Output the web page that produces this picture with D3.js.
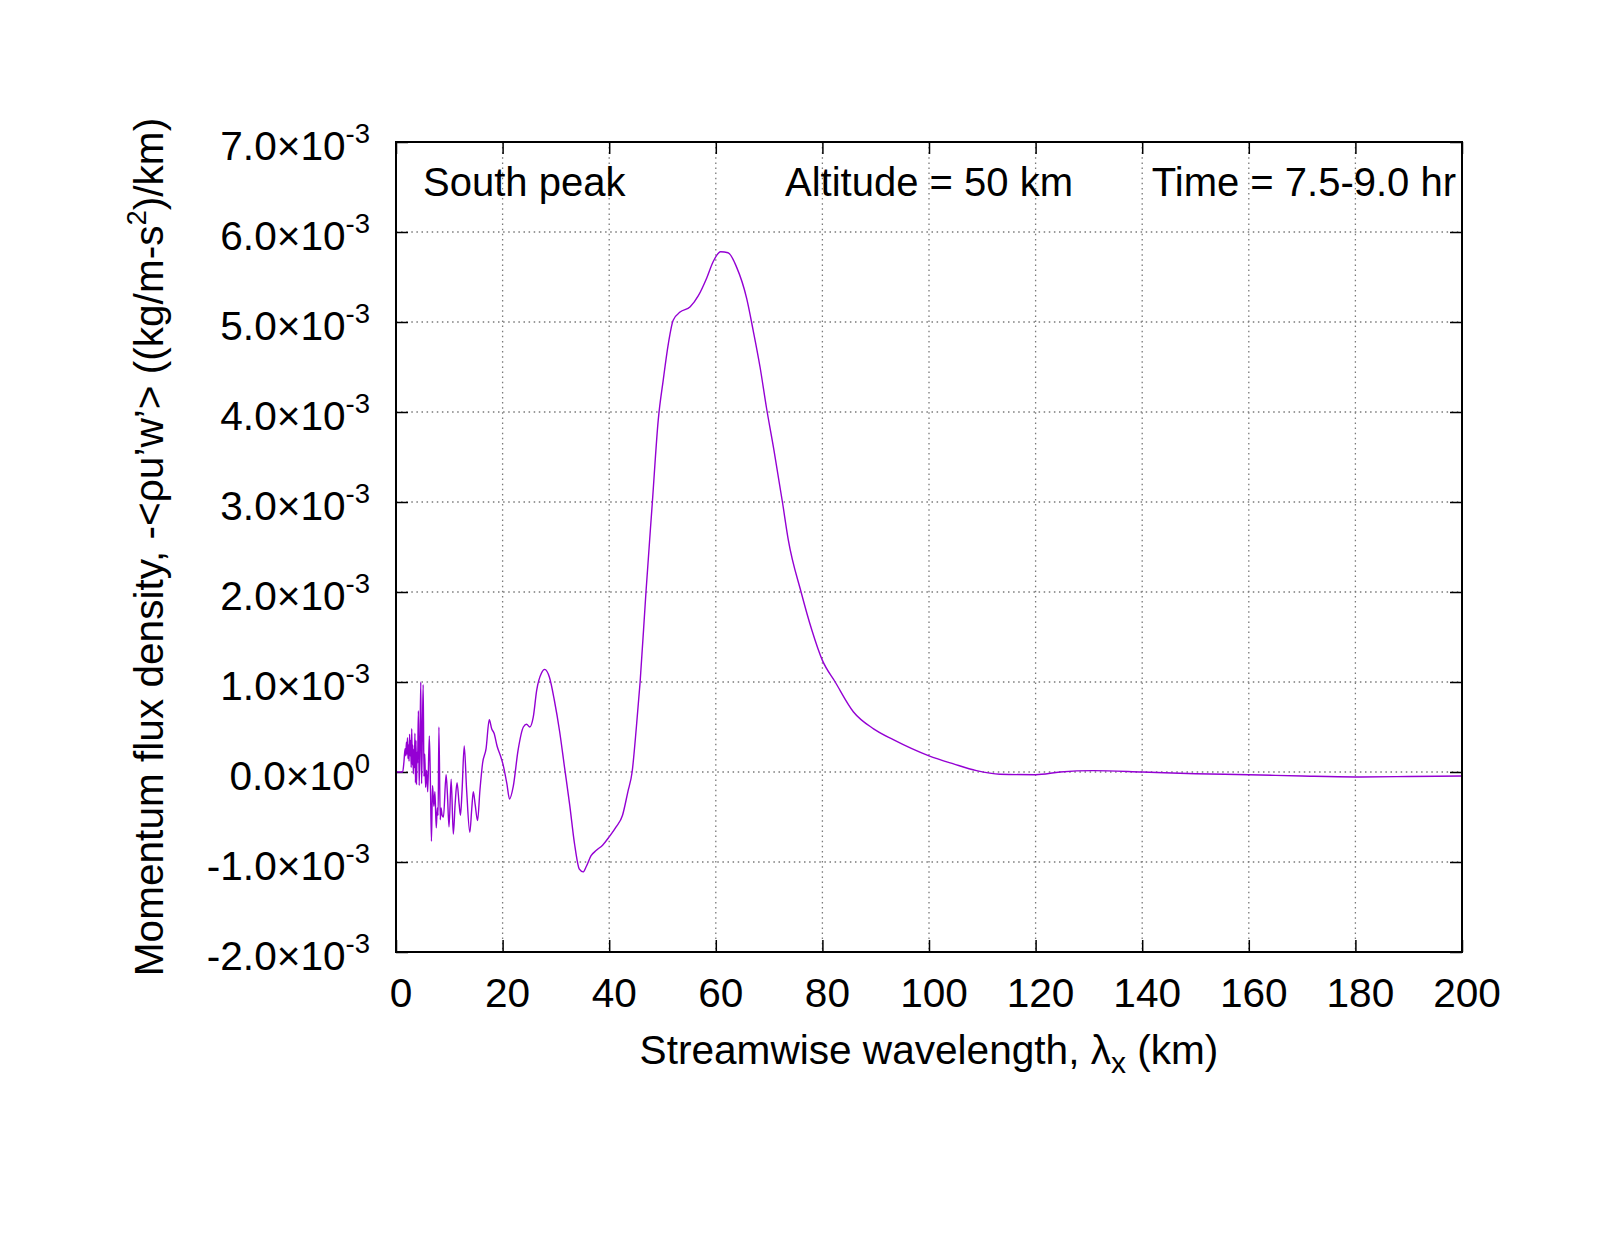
<!DOCTYPE html>
<html>
<head>
<meta charset="utf-8">
<script src="https://cdn.jsdelivr.net/npm/d3@7"></script>
<style>
  html, body { margin: 0; padding: 0; background: #fff; }
  svg { display: block; }
  text { font-family: "Liberation Sans", Arial, Helvetica, sans-serif; fill: #000; }
</style>
</head>
<body>
<svg id="chart" width="1600" height="1240"></svg>
<script>
// ---- data (flux values in units of 1e-3 kg/(m s^2)/km) ----
const wavelengthKm = [
  0.1, 1.25, 1.5, 1.7, 1.85, 1.95, 2.05, 2.15, 2.25, 2.35, 2.45, 2.55, 2.65, 2.75, 2.85, 2.95,
  3.05, 3.15, 3.25, 3.35, 3.45, 3.55, 3.65, 3.75, 3.85, 3.95, 4.05, 4.2, 4.35, 4.5, 4.65, 4.8,
  4.95, 5.1, 5.25, 5.4, 5.55, 5.75, 5.95, 6.25, 6.45, 6.65, 6.85, 7.1, 7.3, 7.55, 7.75, 7.9,
  8.05, 8.3, 8.45, 8.65, 8.9, 9.4, 9.65, 9.95, 10.35, 10.75, 11.1, 11.45, 11.85, 12.1, 12.4,
  12.8, 13.25, 13.85, 14.2, 14.5, 14.85, 15.3, 15.75, 16.25, 16.9, 17.5, 17.95, 18.4, 19.0,
  19.6, 20.1, 20.8, 21.3, 22.0, 22.9, 23.9, 24.5, 25.1, 25.75, 26.4, 27.3, 27.9, 28.8, 29.7,
  30.7, 31.6, 32.6, 33.5, 34.4, 35.1, 35.7, 36.6, 37.6, 38.8, 40.0, 41.3, 42.5, 43.5, 44.3,
  45.1, 45.8, 46.9, 48.1, 49.2, 50.15, 51.1, 52.0, 53.3, 55.2, 56.7, 58.3, 59.5, 60.9, 62.3,
  63.9, 65.8, 67.0, 68.3, 69.5, 70.9, 72.5, 73.6, 76.0, 78.0, 80.0, 82.4, 85.8, 89.6, 93.3,
  100, 104.6, 108.9, 113.3, 120, 124.6, 130.8, 140, 150, 160, 170, 180, 190, 200
];
const fluxE3 = [
  0, 0, 0.12, 0.26, 0.18, 0.33, 0.20, 0.38, 0.15, 0.30, 0.12, 0.42, 0.18, 0.35, 0.05, 0.48,
  0.08, 0.30, -0.02, 0.25, 0.05, 0.43, -0.12, 0.35, -0.14, 0.22, 0.10, 0.68, -0.15, 0.30, 1.0, -0.13,
  0.45, 0.97, -0.05, 0.20, -0.17, 0.02, -0.22, 0.40, -0.10, -0.77, -0.15, -0.38, -0.22, -0.62, -0.40, -0.48,
  0.50, -0.53, -0.40, -0.48, -0.50, -0.03, -0.25, -0.61, -0.08, -0.69, -0.35, -0.12, -0.36, -0.48, -0.20,
  0.29, -0.20, -0.67, -0.42, -0.22, -0.36, -0.54, -0.20, 0.10, 0.26, 0.58, 0.48, 0.43, 0.28,
  0.18, 0.08, -0.13, -0.30, -0.16, 0.24, 0.50, 0.53, 0.50, 0.61, 0.91, 1.10, 1.14, 1.05, 0.80,
  0.45, 0.06, -0.37, -0.80, -1.08, -1.11, -1.05, -0.93, -0.87, -0.81, -0.72, -0.61, -0.48, -0.22, 0.0,
  0.5, 1.0, 2.0, 3.0, 3.91, 4.36, 4.76, 5.02, 5.11, 5.17, 5.29, 5.49, 5.67, 5.78, 5.77,
  5.61, 5.26, 4.91, 4.50, 4.05, 3.58, 3.0, 2.58, 2.0, 1.58, 1.24, 1.0, 0.67, 0.48, 0.36,
  0.18, 0.09, 0.015, -0.025, -0.03, 0.0, 0.015, 0.0, -0.02, -0.03, -0.045, -0.055, -0.05, -0.045
];
const xTicks = [0, 20, 40, 60, 80, 100, 120, 140, 160, 180, 200];
const yTicks = [-2, -1, 0, 1, 2, 3, 4, 5, 6, 7];
const yTickMantissa = ["-2.0", "-1.0", "0.0", "1.0", "2.0", "3.0", "4.0", "5.0", "6.0", "7.0"];
const yTickExponent = ["-3", "-3", "0", "-3", "-3", "-3", "-3", "-3", "-3", "-3"];
const annotations = ["South peak", "Altitude = 50 km", "Time = 7.5-9.0 hr"];

// ---- layout ----
const L = 396, R = 1462, T = 142, B = 952;
const svg = d3.select("#chart");
const x = d3.scaleLinear().domain([0, 200]).range([L, R]);
const y = d3.scaleLinear().domain([-2, 7]).range([B, T]);
const FS = 40.6, SUP = 27.5;

// grid
const grid = svg.append("g").attr("stroke", "#7a7a7a").attr("stroke-width", 1.3)
  .attr("stroke-dasharray", "1.5 3.6");
grid.selectAll("line.v").data(xTicks.slice(1, -1)).join("line")
  .attr("x1", d => x(d)).attr("x2", d => x(d)).attr("y1", T).attr("y2", B);
grid.selectAll("line.h").data(yTicks.slice(1, -1)).join("line")
  .attr("y1", d => y(d)).attr("y2", d => y(d)).attr("x1", L).attr("x2", R);

// axes ticks (inward, mirrored)
const tk = 12;
function styleAxis(g) {
  g.select(".domain").remove();
  g.selectAll(".tick line").attr("stroke", "#000").attr("stroke-width", 1.5);
  g.selectAll(".tick text").remove();
}
svg.append("g").attr("transform", `translate(0,${B})`)
  .call(d3.axisBottom(x).tickValues(xTicks).tickSize(-tk)).call(styleAxis);
svg.append("g").attr("transform", `translate(0,${T})`)
  .call(d3.axisTop(x).tickValues(xTicks).tickSize(-tk)).call(styleAxis);
svg.append("g").attr("transform", `translate(${L},0)`)
  .call(d3.axisLeft(y).tickValues(yTicks).tickSize(-tk)).call(styleAxis);
svg.append("g").attr("transform", `translate(${R},0)`)
  .call(d3.axisRight(y).tickValues(yTicks).tickSize(-tk)).call(styleAxis);

// curve
const pts = wavelengthKm.map((k, i) => [k, fluxE3[i]]);
svg.append("path").datum(pts)
  .attr("fill", "none").attr("stroke", "#9400d3").attr("stroke-width", 1.4)
  .attr("stroke-linejoin", "round")
  .attr("d", d3.line().x(d => x(d[0])).y(d => y(d[1])).curve(d3.curveMonotoneX));

// border
svg.append("rect").attr("x", L).attr("y", T).attr("width", R - L).attr("height", B - T)
  .attr("fill", "none").attr("stroke", "#000").attr("stroke-width", 2);

// x tick labels
svg.append("g").selectAll("text").data(xTicks).join("text")
  .attr("x", d => x(d) + 5).attr("y", 1007).attr("text-anchor", "middle")
  .attr("font-size", FS).text(d => d);

// y tick labels
const yl = svg.append("g").selectAll("text").data(yTicks).join("text")
  .attr("x", 370).attr("y", d => y(d) + 18).attr("text-anchor", "end").attr("font-size", FS);
yl.append("tspan").text((d, i) => yTickMantissa[i] + "\u00d710");
yl.append("tspan").attr("dy", -17).attr("font-size", SUP).text((d, i) => yTickExponent[i]);

// x axis label
const xl = svg.append("text").attr("x", (L + R) / 2).attr("y", 1064)
  .attr("text-anchor", "middle").attr("font-size", FS);
xl.append("tspan").text("Streamwise wavelength, \u03bb");
xl.append("tspan").attr("dy", 9).attr("font-size", 30).text("x");
xl.append("tspan").attr("dy", -9).text(" (km)");

// y axis label
const ylab = svg.append("text").attr("transform", `translate(163,${(T + B) / 2}) rotate(-90)`)
  .attr("text-anchor", "middle").attr("font-size", FS);
ylab.append("tspan").text("Momentum flux density, -<\u03c1u\u2019w\u2019> ((kg/m-s");
ylab.append("tspan").attr("dy", -17).attr("font-size", SUP).text("2");
ylab.append("tspan").attr("dy", 17).text(")/km)");

// annotations
svg.append("text").attr("x", 423).attr("y", 196).attr("font-size", 40).text(annotations[0]);
svg.append("text").attr("x", (L + R) / 2).attr("y", 196).attr("text-anchor", "middle")
  .attr("font-size", 40).text(annotations[1]);
svg.append("text").attr("x", 1456).attr("y", 196).attr("text-anchor", "end")
  .attr("font-size", 40).text(annotations[2]);
</script>
</body>
</html>
